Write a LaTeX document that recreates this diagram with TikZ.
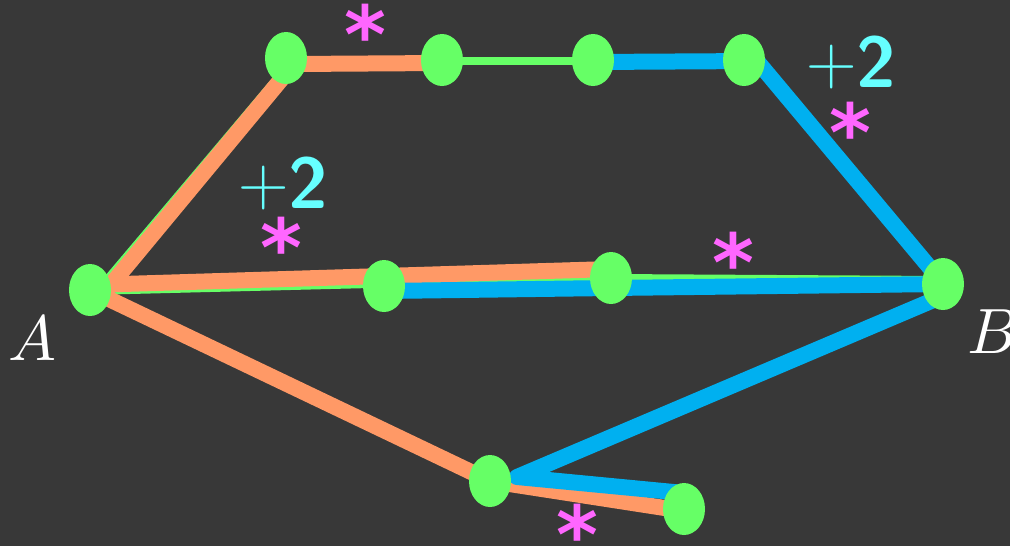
\documentclass[tikz,border=0pt]{standalone}
\usepackage{fontspec}
\usetikzlibrary{shapes.geometric}
\newfontfamily\djv{DejaVu Sans}
\definecolor{bgc}{HTML}{383838}
\definecolor{gr}{HTML}{66FF66}
\definecolor{og}{HTML}{FF9966}
\definecolor{bl}{HTML}{00B0F0}
\definecolor{cy}{HTML}{66FFFF}
\definecolor{mg}{HTML}{FF66FF}
\pgfdeclarelayer{back}
\pgfdeclarelayer{edges}
\pgfsetlayers{back,edges,main}
\newcommand{\gaintext}{{\fontsize{70}{70}\selectfont\raisebox{3pt}{+}}{\fontsize{72}{72}\selectfont\sffamily\bfseries 2}}
\begin{document}
\begin{tikzpicture}[x=1pt,y=-1pt,
  vtx/.style={ellipse, fill=gr, minimum width=42pt, minimum height=52pt, inner sep=0pt},
  gline/.style={draw=gr, line width=8pt},
  oline/.style={draw=og, line width=16pt, line join=round},
  bline/.style={draw=bl, line width=16pt, line join=round, line cap=round},
  star/.style={text=mg, inner sep=0pt, yshift=-9pt, font=\djv\bfseries\fontsize{80}{80}\selectfont},
  gain/.style={text=cy, inner sep=0pt, anchor=base west},
  lbl/.style={text=white, inner sep=0pt, anchor=base west}]
\begin{pgfonlayer}{back}
\fill[bgc] (0,0) rectangle (1010,546);
\end{pgfonlayer}
\useasboundingbox (0,0) rectangle (1010,546);
% vertices
\node[vtx] (A)  at (90,290) {};
\node[vtx] (T1) at (286,58) {};
\node[vtx] (T2) at (442,60) {};
\node[vtx] (T3) at (593,60) {};
\node[vtx] (T4) at (744,60) {};
\node[vtx] (M1) at (384,286) {};
\node[vtx] (M2) at (611,278) {};
\node[vtx] (B)  at (943,284) {};
\node[vtx] (L1) at (490,481) {};
\node[vtx] (L2) at (684,509) {};
\begin{pgfonlayer}{edges}
% green
\draw[gline] ([shift={(5,4)}]A.center) -- ([shift={(5,4)}]T1.center);
\draw[gline] ([shift={(0,1)}]T2.center) -- ([shift={(0,1)}]T3.center);
\draw[gline] ([shift={(0,1)}]A.center) -- (M2.center) -- ([shift={(0,-4)}]B.center);
% orange
\draw[oline] ([shift={(10,8)}]A.center) -- ([shift={(8,6)}]T1.center) -- ([shift={(0,3)}]T2.center);
\draw[oline] ([shift={(0,-5)}]A.center) -- ([shift={(0,-10)}]M1.center) -- ([shift={(0,-9)}]M2.center);
\draw[oline] (A.center) -- (L1.center) -- ([shift={(0,2)}]L2.center);
% blue
\draw[bline] ([shift={(0,2)}]T3.center) -- ([shift={(13,1)}]T4.center) -- ([shift={(-2,-3)}]B.center);
\draw[bline] ([shift={(0,5)}]M1.center) -- ([shift={(0,10)}]M2.center) -- (B.center);
\draw[bline] ([shift={(0,12)}]B.center) -- ([shift={(27,-4)}]L1.center) -- ([shift={(0,-16)}]L2.center);
\end{pgfonlayer}
% labels
\node[star] (s1) at (365,25) {*};
\node[star] (s2) at (850,123) {*};
\node[star] (s3) at (281,238) {*};
\node[star] (s4) at (733,253) {*};
\node[star] (s5) at (577,525) {*};
\node[gain] (g1) at (806,87) {\gaintext};
\node[gain] (g2) at (238,208) {\gaintext};
\node[lbl] (la) at (8,360) {\scalebox{6.4}{$A$}};
\node[lbl] (lb) at (967,353) {\scalebox{6.4}{$B$}};
\end{tikzpicture}
\end{document}
